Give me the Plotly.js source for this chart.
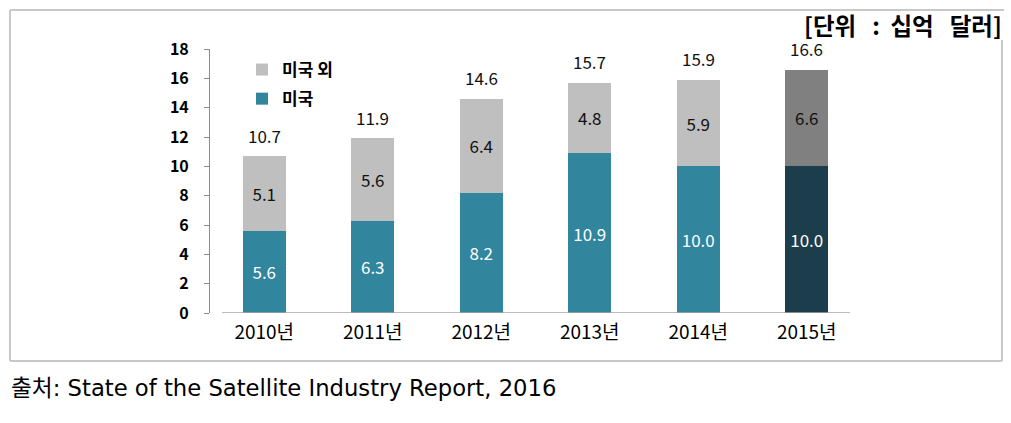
<!DOCTYPE html>
<html>
<head>
<meta charset="utf-8">
<script src="https://cdn.plot.ly/plotly-3.0.1.min.js"></script>
<style>html,body{margin:0;padding:0;background:#fff}#chart{width:1011px;height:423px}</style>
</head>
<body>
<div id="chart"></div>
<script>
const years = ["2010년", "2011년", "2012년", "2013년", "2014년", "2015년"];
const usValues = [5.6, 6.3, 8.2, 10.9, 10.0, 10.0];
const nonUsValues = [5.1, 5.6, 6.4, 4.8, 5.9, 6.6];
const totals = [10.7, 11.9, 14.6, 15.7, 15.9, 16.6];
const yTicks = [0, 2, 4, 6, 8, 10, 12, 14, 16, 18];

const teal = "#31859C", tealDark = "#1C3E4C", grayL = "#BFBFBF", grayD = "#808080";
const KFONT = "'Noto Sans CJK KR', 'Malgun Gothic', sans-serif";
const NB = "\u00A0";

const traceUS = {
  type: "bar", name: "미국", x: years, y: usValues,
  marker: {color: years.map((_, i) => i === years.length - 1 ? tealDark : teal)},
  width: 0.4,
  text: usValues.map(v => v.toFixed(1)),
  textposition: "inside", insidetextanchor: "middle", textangle: 0, constraintext: "none",
  textfont: {family: KFONT, size: 17, color: "#ffffff"},
  legendgroup: "us", legendrank: 2, hoverinfo: "skip"
};
const traceNonUS = {
  type: "bar", name: "미국 외", x: years, y: nonUsValues,
  marker: {color: years.map((_, i) => i === years.length - 1 ? grayD : grayL)},
  width: 0.4,
  text: nonUsValues.map(v => v.toFixed(1)),
  textposition: "inside", insidetextanchor: "middle", textangle: 0, constraintext: "none",
  textfont: {family: KFONT, size: 17, color: "#111111"},
  legendgroup: "nonus", legendrank: 1, hoverinfo: "skip"
};

const pxX = px => (px - 210) / 651;
const pxY = py => (313 - py) / 264;

const annotations = years.map((yr, i) => ({
  x: yr, y: totals[i], xref: "x", yref: "y", text: totals[i].toFixed(1),
  showarrow: false, yanchor: "middle", yshift: 21, borderpad: 0,
  font: {family: KFONT, size: 17, color: "#111111"}
}));
annotations.push({
  xref: "paper", yref: "paper", x: pxX(1003), y: pxY(25), xanchor: "right", yanchor: "middle",
  text: "[단위" + NB + NB + NB + ":" + NB + NB + "십억" + NB + NB + NB + "달러]", showarrow: false,
  borderpad: 0,
  font: {family: KFONT, size: 23.5, color: "#000000", weight: "bold"}
});
annotations.push({
  xref: "paper", yref: "paper", x: pxX(9), y: pxY(388), xanchor: "left", yanchor: "middle",
  text: "출처: State of the Satellite Industry Report, 2016", showarrow: false,
  font: {family: "'DejaVu Sans', 'Noto Sans CJK KR', sans-serif", size: 22.7, color: "#000000"}
});

const borderLine = (x0, y0, x1, y1) => ({
  type: "line", xref: "paper", yref: "paper",
  x0: pxX(x0), y0: pxY(y0), x1: pxX(x1), y1: pxY(y1),
  line: {color: "#c8c8c8", width: 2}, layer: "below"
});

const layout = {
  width: 1011, height: 423,
  margin: {l: 210, r: 150, t: 49, b: 110},
  paper_bgcolor: "#ffffff", plot_bgcolor: "#ffffff",
  barmode: "stack",
  showlegend: true,
  legend: {
    x: pxX(242), y: pxY(52), xanchor: "left", yanchor: "top",
    traceorder: "grouped", tracegroupgap: 4,
    font: {family: KFONT, size: 17, color: "#000000", weight: "bold"},
    bgcolor: "rgba(0,0,0,0)"
  },
  xaxis: {
    type: "category", range: [-0.5, 5.5], showgrid: false, zeroline: false, showline: false,
    ticks: "", ticklabelstandoff: 6,
    tickfont: {family: KFONT, size: 19, color: "#000000"}, fixedrange: true
  },
  yaxis: {
    range: [0, 18], tickvals: yTicks, ticktext: yTicks.map(String), showgrid: false, zeroline: false,
    showline: true, linecolor: "#8c8c8c", linewidth: 1,
    ticks: "outside", ticklen: 5, tickcolor: "#8c8c8c", ticklabelstandoff: 12,
    tickfont: {family: KFONT, size: 16, color: "#000000", weight: "bold"}, fixedrange: true
  },
  shapes: [
    {type: "line", xref: "x", yref: "y", x0: -0.39, x1: 5.4, y0: 0, y1: 0,
     line: {color: "#a6a6a6", width: 1.5}},
    borderLine(10, 10, 1004, 10),
    borderLine(10, 10, 10, 361),
    borderLine(10, 361, 1002, 361),
    borderLine(1002, 40, 1002, 361)
  ],
  annotations: annotations
};

Plotly.newPlot("chart", [traceUS, traceNonUS], layout, {displayModeBar: false, staticPlot: true});
</script>
</body>
</html>
